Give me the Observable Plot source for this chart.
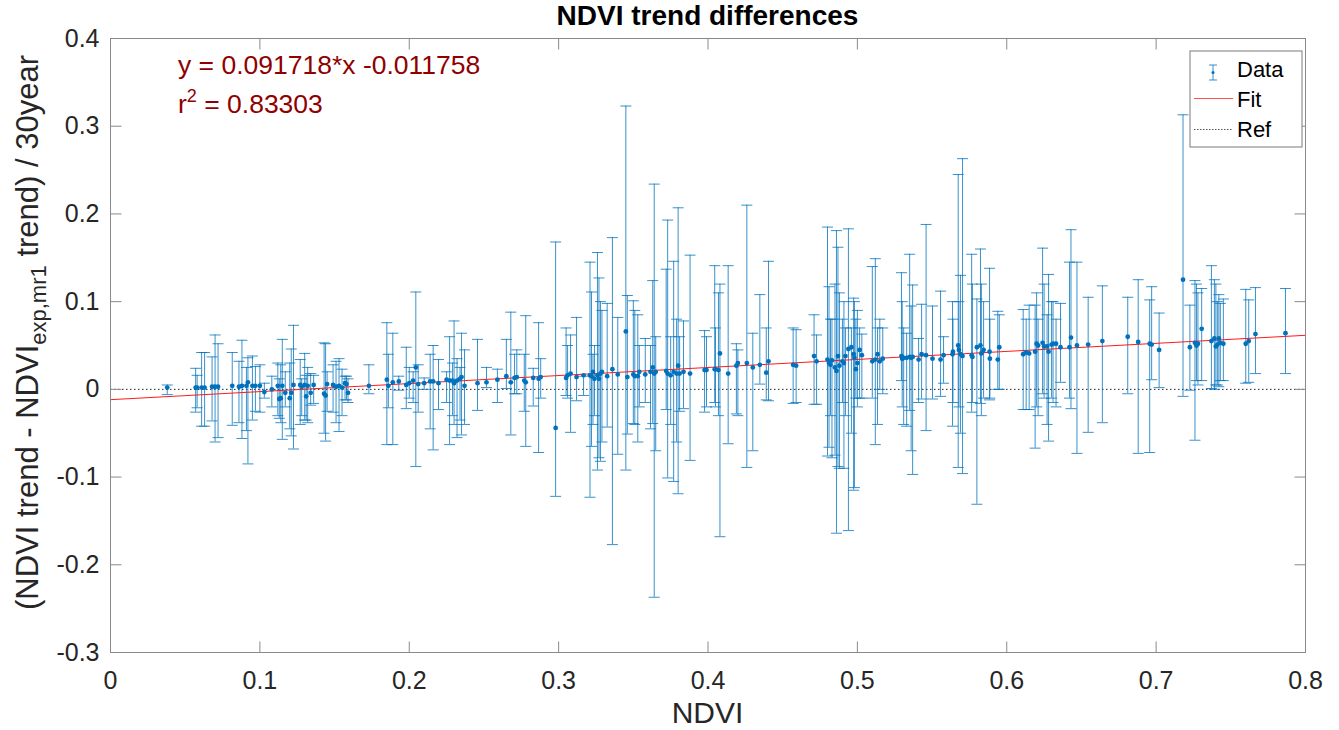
<!DOCTYPE html>
<html>
<head>
<meta charset="utf-8">
<script src="https://cdn.jsdelivr.net/npm/d3@7"></script>
<script src="https://cdn.jsdelivr.net/npm/@observablehq/plot@0.6"></script>
<style>
  body { margin: 0; background: #fff; }
  svg text { white-space: pre; }
</style>
</head>
<body>
<div id="chart"></div>
<script>
const xTicks = [0, 0.1, 0.2, 0.3, 0.4, 0.5, 0.6, 0.7, 0.8];
const yTicks = [-0.3, -0.2, -0.1, 0, 0.1, 0.2, 0.3, 0.4];

const fitSlope = 0.091718;
const fitIntercept = -0.011758;
const fitR2 = 0.83303;
const fitX = [0, 0.8];
const refY = [0];

const xVals = [
 0.038,0.057,0.058,0.061,0.063,0.068,0.070,0.072,0.0815,0.086,
 0.088,0.091,0.092,0.095,0.097,0.100,0.103,0.108,0.112,0.113,
 0.114,0.115,0.117,0.120,0.121,0.1225,0.127,0.128,0.130,0.131,
 0.132,0.134,0.136,0.143,0.144,0.145,0.149,0.151,0.153,0.155,
 0.157,0.158,0.159,0.173,0.185,0.186,0.189,0.193,0.198,0.200,
 0.2026,0.2044,0.206,0.210,0.214,0.216,0.2196,0.225,0.227,0.229,
 0.230,0.232,0.234,0.235,0.237,0.2457,0.2517,0.259,0.265,0.268,
 0.2705,0.272,0.277,0.278,0.283,0.2866,0.288,0.298,0.305,0.306,
 0.308,0.312,0.3167,0.321,0.322,0.323,0.324,0.326,0.327,0.328,
 0.329,0.3325,0.336,0.3396,0.345,0.346,0.350,0.351,0.353,0.354,
 0.358,0.3615,0.363,0.364,0.365,0.372,0.373,0.375,0.377,0.379,
 0.380,0.381,0.3836,0.388,0.3977,0.399,0.4045,0.405,0.407,0.408,
 0.4135,0.419,0.420,0.426,0.430,0.4347,0.439,0.4405,0.457,0.459,
 0.471,0.4727,0.480,0.481,0.482,0.483,0.485,0.486,0.487,0.488,
 0.490,0.491,0.492,0.494,0.496,0.4975,0.498,0.499,0.500,0.5015,
 0.503,0.510,0.512,0.5135,0.515,0.517,0.5295,0.530,0.531,0.533,
 0.535,0.536,0.537,0.541,0.543,0.546,0.5503,0.5557,0.5577,0.5637,
 0.564,0.5675,0.568,0.569,0.5704,0.5765,0.577,0.580,0.5824,0.583,
 0.5845,0.5885,0.5887,0.594,0.595,0.611,0.613,0.615,0.619,0.620,
 0.621,0.624,0.625,0.627,0.628,0.630,0.631,0.633,0.636,0.642,
 0.643,0.647,0.6545,0.664,0.681,0.688,0.6957,0.697,0.702,0.718,
 0.7226,0.726,0.727,0.728,0.7305,0.737,0.739,0.740,0.741,0.742,
 0.743,0.745,0.760,0.762,0.7665,0.7866
];

const yVals = [
 0.002,0.002,0.002,0.002,0.002,0.003,0.003,0.003,0.004,0.003,
 0.004,0.004,0.008,0.004,0.004,0.004,-0.003,0.000,0.004,-0.011,
 -0.010,0.004,-0.004,-0.010,-0.004,0.005,0.005,0.003,0.005,-0.008,
 0.004,-0.004,0.005,-0.005,-0.007,0.006,0.005,0.003,0.004,0.002,
 0.007,0.006,-0.004,0.004,0.011,0.004,0.008,0.009,0.005,0.007,
 0.010,0.025,0.006,0.007,0.009,0.009,0.007,0.011,0.010,0.010,
 0.007,0.010,0.012,0.014,0.004,0.007,0.008,0.011,0.015,0.008,
 0.013,0.014,0.010,0.008,0.013,0.012,0.014,-0.044,0.013,0.016,
 0.018,0.014,0.016,0.016,0.015,0.020,0.012,0.016,0.012,0.018,
 0.020,0.015,0.023,0.017,0.066,0.014,0.017,0.015,0.015,0.020,
 0.017,0.020,0.025,0.018,0.020,0.021,0.018,0.016,0.020,0.018,
 0.027,0.018,0.020,0.018,0.022,0.022,0.023,0.023,0.022,0.041,
 0.018,0.027,0.030,0.030,0.025,0.028,0.019,0.032,0.028,0.027,
 0.038,0.032,0.034,0.030,0.028,0.033,0.025,0.021,0.038,0.027,
 0.032,0.030,0.038,0.046,0.048,0.040,0.036,0.023,0.030,0.045,
 0.039,0.032,0.034,0.040,0.032,0.035,0.038,0.035,0.036,0.036,
 0.037,0.036,0.037,0.034,0.040,0.039,0.035,0.034,0.039,0.040,
 0.043,0.050,0.045,0.040,0.038,0.039,0.037,0.048,0.050,0.041,
 0.045,0.043,0.035,0.034,0.048,0.040,0.042,0.041,0.043,0.052,
 0.050,0.053,0.049,0.049,0.043,0.051,0.052,0.052,0.048,0.048,
 0.059,0.050,0.051,0.055,0.060,0.054,0.052,0.051,0.045,0.125,
 0.048,0.053,0.050,0.052,0.069,0.055,0.058,0.049,0.051,0.058,
 0.053,0.052,0.052,0.055,0.063,0.064
];

const yLow = [
 -0.006,-0.026,-0.021,-0.042,-0.042,-0.036,-0.060,-0.055,-0.041,-0.038,
 -0.056,-0.047,-0.085,-0.035,-0.025,-0.026,-0.010,-0.020,-0.030,-0.033,
 -0.038,-0.057,-0.020,-0.045,-0.053,-0.068,-0.040,-0.030,-0.035,-0.035,
 -0.038,-0.018,-0.016,-0.050,-0.059,-0.025,-0.026,-0.038,-0.048,-0.030,
 -0.012,-0.012,-0.015,-0.005,-0.063,-0.021,-0.063,-0.001,-0.022,-0.010,
 -0.015,-0.088,-0.026,0.000,-0.045,-0.069,-0.023,-0.015,-0.063,-0.030,
 -0.040,-0.055,-0.035,-0.052,-0.040,-0.024,0.002,-0.015,0.001,-0.052,
 -0.005,-0.005,-0.025,-0.065,-0.019,-0.072,-0.010,-0.122,-0.007,-0.010,
 -0.049,-0.013,-0.007,-0.123,-0.065,-0.040,-0.030,-0.092,-0.078,-0.082,
 -0.060,-0.043,-0.177,-0.074,-0.092,-0.051,-0.039,-0.040,-0.060,-0.020,
 -0.015,-0.045,-0.039,-0.237,-0.070,-0.023,-0.101,-0.040,-0.105,-0.060,
 -0.119,-0.025,-0.022,-0.081,-0.026,-0.020,-0.015,-0.020,-0.030,-0.168,
 -0.062,-0.028,-0.030,-0.089,-0.070,0.006,-0.012,-0.013,-0.016,-0.015,
 -0.017,-0.017,-0.076,-0.066,-0.030,-0.078,-0.075,-0.164,-0.088,-0.090,
 -0.015,-0.090,-0.030,-0.161,-0.050,-0.115,-0.112,-0.010,-0.020,-0.010,
 -0.010,-0.010,-0.063,-0.040,0.000,-0.005,0.010,-0.020,-0.040,-0.042,
 -0.024,-0.070,-0.097,-0.015,-0.011,-0.047,-0.011,-0.008,0.007,-0.042,
 -0.015,-0.089,-0.020,-0.050,-0.096,-0.026,-0.015,-0.131,-0.016,-0.030,
 -0.010,-0.012,-0.010,0.000,0.000,-0.023,-0.023,-0.023,-0.067,-0.020,
 -0.030,-0.005,-0.010,-0.040,-0.059,-0.010,-0.015,-0.020,0.008,-0.010,
 -0.022,-0.073,-0.049,-0.038,-0.005,-0.073,-0.072,0.011,0.002,-0.008,
 -0.001,-0.058,0.010,0.005,0.010,0.001,0.000,0.005,0.005,0.003,
 0.010,0.010,0.007,0.008,0.018,0.018
];

const yHigh = [
 0.005,0.024,0.016,0.042,0.042,0.037,0.062,0.052,0.042,0.032,
 0.056,0.025,0.036,0.038,0.026,0.028,0.007,0.015,0.030,0.012,
 0.028,0.057,0.020,0.030,0.046,0.073,0.034,0.012,0.041,0.016,
 0.025,0.018,0.016,0.053,0.052,0.020,0.028,0.032,0.035,0.023,
 0.015,0.015,0.012,0.028,0.076,0.040,0.064,0.015,0.048,0.025,
 0.020,0.111,0.028,0.013,0.040,0.050,0.034,0.020,0.060,0.030,
 0.078,0.035,0.025,0.064,0.045,0.057,0.025,0.023,0.057,0.088,
 0.040,0.045,0.040,0.084,0.024,0.076,0.035,0.168,0.070,0.050,
 0.062,0.082,0.015,0.145,0.111,0.040,0.050,0.156,0.127,0.100,
 0.090,0.098,0.173,0.082,0.323,0.107,0.101,0.090,0.085,0.050,
 0.058,0.050,0.124,0.234,0.060,0.137,0.193,0.060,0.146,0.080,
 0.207,0.060,0.078,0.153,0.067,0.060,0.141,0.070,0.110,0.120,
 0.141,0.052,0.045,0.210,0.064,0.108,0.070,0.146,0.070,0.068,
 0.085,0.062,0.185,0.117,0.080,0.080,0.120,0.181,0.162,0.110,
 0.080,0.100,0.070,0.183,0.070,0.104,0.100,0.080,0.090,0.070,
 0.063,0.140,0.149,0.070,0.080,0.070,0.133,0.100,0.070,0.064,
 0.154,0.095,0.119,0.058,0.097,0.188,0.095,0.112,0.060,0.100,
 0.080,0.245,0.100,0.130,0.263,0.154,0.120,0.103,0.160,0.120,
 0.100,0.138,0.080,0.089,0.085,0.091,0.080,0.096,0.096,0.110,
 0.080,0.161,0.120,0.085,0.131,0.100,0.100,0.080,0.098,0.145,
 0.182,0.145,0.105,0.118,0.105,0.125,0.102,0.117,0.087,0.313,
 0.096,0.124,0.120,0.110,0.115,0.141,0.125,0.120,0.100,0.108,
 0.098,0.103,0.114,0.102,0.116,0.115
];

const data = xVals.map((x, i) => ({x, y: yVals[i], lo: yLow[i], hi: yHigh[i]}));
const fitData = fitX.map(x => ({x, y: fitSlope * x + fitIntercept}));

const BLUE = "#0072BD";
const AX = "#262626";
const FONT = "'Liberation Sans', Arial, Helvetica, sans-serif";
const fmt = d => String(+d.toFixed(1));

// pixel-sized symbols (caps & inward axis ticks)
const capSym = {draw(c) { c.moveTo(-5.5, 0); c.lineTo(5.5, 0); }};
const tickUp = {draw(c) { c.moveTo(0, 0); c.lineTo(0, -11); }};
const tickDown = {draw(c) { c.moveTo(0, 0); c.lineTo(0, 11); }};
const tickRight = {draw(c) { c.moveTo(0, 0); c.lineTo(11, 0); }};
const tickLeft = {draw(c) { c.moveTo(0, 0); c.lineTo(-11, 0); }};

const xMin = xTicks[0], xMax = xTicks[xTicks.length - 1];
const yMin = yTicks[0], yMax = yTicks[yTicks.length - 1];

const svg = Plot.plot({
  width: 1339,
  height: 730,
  marginLeft: 110,
  marginRight: 34,
  marginTop: 38,
  marginBottom: 78,
  style: {fontFamily: FONT, fontSize: "25px", color: AX, background: "#fff"},
  x: {domain: [xMin, xMax]},
  y: {domain: [yMin, yMax]},
  marks: [
    Plot.ruleY(refY, {stroke: "#222", strokeWidth: 1, strokeDasharray: "1.5,2.5"}),
    Plot.ruleX(data, {x: "x", y1: "lo", y2: "hi", stroke: BLUE, strokeOpacity: 0.78, strokeWidth: 1}),
    Plot.dot(data, {x: "x", y: "lo", symbol: capSym, r: 4, stroke: BLUE, fill: "none", strokeOpacity: 0.78, strokeWidth: 1}),
    Plot.dot(data, {x: "x", y: "hi", symbol: capSym, r: 4, stroke: BLUE, fill: "none", strokeOpacity: 0.78, strokeWidth: 1}),
    Plot.line(fitData, {x: "x", y: "y", stroke: "#ff1a1a", strokeWidth: 1}),
    Plot.dot(data, {x: "x", y: "y", r: 2.4, fill: BLUE, stroke: "none"}),
    Plot.frame({stroke: "#8a8a8a", strokeWidth: 1}),
    Plot.dot(xTicks, {x: d => d, y: yMin, symbol: tickUp, r: 5, stroke: "#8a8a8a", fill: "none", strokeWidth: 1}),
    Plot.dot(xTicks, {x: d => d, y: yMax, symbol: tickDown, r: 5, stroke: "#8a8a8a", fill: "none", strokeWidth: 1}),
    Plot.dot(yTicks, {y: d => d, x: xMin, symbol: tickRight, r: 5, stroke: "#8a8a8a", fill: "none", strokeWidth: 1}),
    Plot.dot(yTicks, {y: d => d, x: xMax, symbol: tickLeft, r: 5, stroke: "#8a8a8a", fill: "none", strokeWidth: 1}),
    Plot.axisX({ticks: xTicks, tickSize: 0, tickPadding: 19, tickFormat: fmt, label: null, fill: AX}),
    Plot.axisY({ticks: yTicks, tickSize: 0, tickPadding: 11, tickFormat: fmt, label: null, fill: AX})
  ]
});

document.getElementById("chart").appendChild(svg);
const s = d3.select(svg);

// title
s.append("text").attr("x", 707.5).attr("y", 25).attr("text-anchor", "middle")
  .attr("font-size", 28).attr("font-weight", "bold").attr("fill", "#000")
  .text("NDVI trend differences");

// x label
s.append("text").attr("x", 707.5).attr("y", 723).attr("text-anchor", "middle")
  .attr("font-size", 30).attr("fill", AX).text("NDVI");

// y label with subscript
const yl = s.append("text").attr("transform", "translate(38,610) rotate(-90)")
  .attr("text-anchor", "start").attr("font-size", 31).attr("fill", AX);
yl.append("tspan").text("(NDVI trend - NDVI");
yl.append("tspan").attr("dy", 8).attr("font-size", 22).text("exp,mr1");
yl.append("tspan").attr("dy", -8).text(" trend) / 30year");

// fit annotation
const RED = "#8f0000";
s.append("text").attr("x", 178).attr("y", 74).attr("text-anchor", "start")
  .attr("font-size", 26.5).attr("fill", RED)
  .text(`y = ${fitSlope}*x ${fitIntercept}`);
const r2 = s.append("text").attr("x", 178).attr("y", 113).attr("text-anchor", "start")
  .attr("font-size", 26.5).attr("fill", RED);
r2.append("tspan").text("r");
r2.append("tspan").attr("dy", -11).attr("font-size", 18).text("2");
r2.append("tspan").attr("dy", 11).text(` = ${fitR2}`);

// legend
const lg = s.append("g");
lg.append("rect").attr("x", 1190).attr("y", 51).attr("width", 112).attr("height", 96)
  .attr("fill", "#fff").attr("stroke", "#7a7a7a").attr("stroke-width", 1);
lg.append("line").attr("x1", 1213).attr("x2", 1213).attr("y1", 65).attr("y2", 80)
  .attr("stroke", BLUE).attr("stroke-opacity", 0.78);
lg.append("line").attr("x1", 1209).attr("x2", 1217).attr("y1", 65).attr("y2", 65)
  .attr("stroke", BLUE).attr("stroke-opacity", 0.78);
lg.append("line").attr("x1", 1209).attr("x2", 1217).attr("y1", 80).attr("y2", 80)
  .attr("stroke", BLUE).attr("stroke-opacity", 0.78);
lg.append("circle").attr("cx", 1213).attr("cy", 72.5).attr("r", 1.5).attr("fill", BLUE);
lg.append("line").attr("x1", 1194).attr("x2", 1233).attr("y1", 98.5).attr("y2", 98.5)
  .attr("stroke", "#ff5050").attr("stroke-width", 1);
lg.append("line").attr("x1", 1194).attr("x2", 1233).attr("y1", 129.5).attr("y2", 129.5)
  .attr("stroke", "#555").attr("stroke-width", 1).attr("stroke-dasharray", "1.5,1.5");
[["Data", 77], ["Fit", 107], ["Ref", 137]].forEach(([t, y]) => {
  lg.append("text").attr("x", 1237).attr("y", y).attr("text-anchor", "start")
    .attr("font-size", 22).attr("fill", "#000").text(t);
});
</script>
</body>
</html>
